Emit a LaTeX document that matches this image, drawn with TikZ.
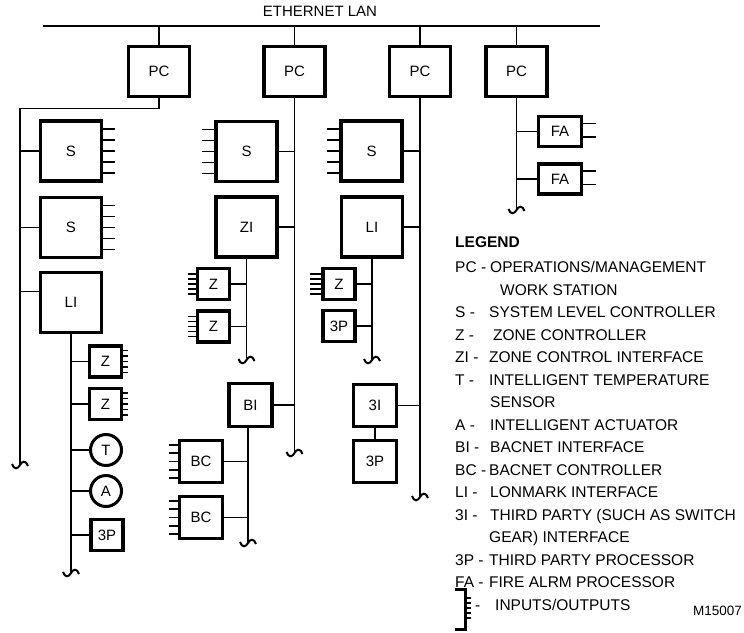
\documentclass[tikz,border=0pt]{standalone}
\usepackage{fontspec}
\setmainfont{Liberation Sans}
\usetikzlibrary{calc}
\begin{document}
\begin{tikzpicture}[x=1pt,y=-1pt,
  box/.style={draw,line width=3.4pt,inner sep=0pt,outer sep=0pt,font=\fontsize{15}{18}\selectfont},
  bigbox/.style={box,minimum width=61pt,minimum height=60pt},
  pcbox/.style={box,minimum width=61pt,minimum height=50pt},
  zbox/.style={box,minimum width=32pt,minimum height=31pt},
  midbox/.style={box,minimum width=43pt,minimum height=42pt},
  fabox/.style={box,minimum width=43pt,minimum height=30pt},
  circ/.style={box,circle,minimum size=31pt,line width=3pt},
  conn/.style={line width=1.6pt},
  pinl/.style={line width=1.6pt},
  legtxt/.style={anchor=base west,inner sep=0pt,font=\fontsize{15.5}{18}\selectfont},
  legbold/.style={legtxt,font=\fontsize{15.5}{18}\selectfont\bfseries},
  wig/.pic={\draw[line width=2pt] (-8,-1) .. controls (-6,5) and (-2,4) .. (0,0) .. controls (2,-4) and (6,-5) .. (8,1);}
]
\useasboundingbox (0,0) rectangle (744,632);

% Ethernet
\coordinate (ethL) at (43,26);
\coordinate (ethR) at (600,26);
\draw[conn] (ethL) -- (ethR);
\node[anchor=base,inner sep=0pt,font=\fontsize{15}{18}\selectfont] (eth) at (320,16.5) {ETHERNET LAN};

\node[pcbox] (pc1) at (159,71.5) {PC};
\node[pcbox] (pc2) at (294.5,71.5) {PC};
\node[pcbox] (pc3) at (420,71.5) {PC};
\node[pcbox] (pc4) at (516.5,71.5) {PC};
\foreach \p in {pc1,pc2,pc3,pc4} \draw[conn] (\p.north) -- (\p.north |- ethL);

% ---------- Column 1
\coordinate (bus1end) at (20,465);
\draw[conn] (pc1.south) -- ++(0,12) -| (bus1end);
\pic at (bus1end) {wig};
\node[bigbox] (s1) at (71,151) {S};
\node[bigbox] (s2) at (71,227.5) {S};
\node[bigbox] (li1) at (71,302.5) {LI};
\draw[conn] (s1.west) -- (s1.west -| bus1end);
\draw[conn] (s2.west) -- (s2.west -| bus1end);
\draw[conn] ($(li1.west)+(0,-11)$) -- ++(-20,0);
\foreach \n in {s1,s2} \foreach \d in {-22,-11,0,11,22}
  \draw[pinl] ($(\n.east)+(0,\d)$) -- ++(13,0);

\coordinate (li1end) at (71,573);
\draw[conn] (li1.south) -- (li1end);
\pic at (li1end) {wig};
\node[zbox] (z1a) at (105.5,361.5) {Z};
\node[zbox] (z1b) at (105.5,404) {Z};
\node[circ] (t1) at (106,450) {T};
\node[circ] (a1) at (106,491) {A};
\node[zbox] (p1) at (107,535) {3P};
\foreach \n in {z1a,z1b,t1,a1,p1} \draw[conn] (\n.west) -- (\n.west -| li1end);
\foreach \n in {z1a,z1b} \foreach \d in {-11,-5.5,0,5.5,11}
  \draw[pinl] ($(\n.east)+(0,\d)$) -- ++(6,0);

% ---------- Column 2
\coordinate (bus2end) at (294.5,453);
\draw[conn] (pc2.south) -- (bus2end);
\pic at (bus2end) {wig};
\node[bigbox] (s2b) at (246.5,151.5) {S};
\node[bigbox] (zi) at (246.5,227) {ZI};
\node[midbox,minimum height=43pt] (bi) at (250.5,405) {BI};
\foreach \n in {s2b,zi,bi} \draw[conn] (\n.east) -- (\n.east -| bus2end);
\foreach \d in {-22,-11,0,11,22}
  \draw[pinl] ($(s2b.west)+(0,\d)$) -- ++(-14,0);

\coordinate (ziend) at (246.5,360);
\draw[conn] (zi.south) -- (ziend);
\pic at (ziend) {wig};
\node[zbox] (z2a) at (213.5,284) {Z};
\node[zbox] (z2b) at (213.5,326.5) {Z};
\foreach \n in {z2a,z2b} {
  \draw[conn] (\n.east) -- (\n.east -| ziend);
  \foreach \d in {-10,-5,0,5,10} \draw[pinl] ($(\n.west)+(0,\d)$) -- ++(-10,0);
}

\coordinate (biend) at (248,543);
\draw[conn] (bi.south -| biend) -- (biend);
\pic at (biend) {wig};
\node[midbox] (bc1) at (201,461.5) {BC};
\node[midbox] (bc2) at (201,517.5) {BC};
\foreach \n in {bc1,bc2} {
  \draw[conn] (\n.east) -- (\n.east -| biend);
  \foreach \d in {-16.5,-8.25,0,8.25,16.5} \draw[pinl] ($(\n.west)+(0,\d)$) -- ++(-11,0);
}

% ---------- Column 3
\coordinate (bus3end) at (420,497);
\draw[conn] (pc3.south) -- (bus3end);
\pic at (bus3end) {wig};
\node[bigbox] (s3) at (371.5,151) {S};
\node[bigbox] (li3) at (372,227) {LI};
\node[midbox] (tpi) at (375,405.5) {3I};
\node[midbox] (tpb) at (375,461.5) {3P};
\foreach \n in {s3,li3,tpi} \draw[conn] (\n.east) -- (\n.east -| bus3end);
\draw[conn] (tpi.south) -- (tpb.north);
\foreach \d in {-22,-11,0,11,22}
  \draw[pinl] ($(s3.west)+(0,\d)$) -- ++(-14,0);

\coordinate (li3end) at (372,360);
\draw[conn] (li3.south) -- (li3end);
\pic at (li3end) {wig};
\node[zbox] (z3) at (339,284) {Z};
\node[zbox] (tps) at (339,326) {3P};
\foreach \n in {z3,tps} \draw[conn] (\n.east) -- (\n.east -| li3end);
\foreach \d in {-10,-5,0,5,10} \draw[pinl] ($(z3.west)+(0,\d)$) -- ++(-13,0);

% ---------- Column 4
\coordinate (bus4end) at (516.5,210);
\draw[conn] (pc4.south) -- (bus4end);
\pic at (bus4end) {wig};
\node[fabox] (fa1) at (560,131.5) {FA};
\node[fabox] (fa2) at (560,179) {FA};
\foreach \n in {fa1,fa2} {
  \draw[conn] (\n.west) -- (\n.west -| bus4end);
  \foreach \d in {-8,5.5} \draw[pinl] ($(\n.east)+(0,\d)$) -- ++(14,0);
}

% ---------- Legend
\node[legbold] (leg) at (455,247.5) {LEGEND};
\node[legtxt] (l0a) at (455,272.5) {PC -};
\node[legtxt] (l0b) at (490,272.5) {OPERATIONS/MANAGEMENT};
\node[legtxt] (l1b) at (500,295) {WORK STATION};
\node[legtxt] (l2a) at (455,317.5) {S -};
\node[legtxt] (l2b) at (489,317.5) {SYSTEM LEVEL CONTROLLER};
\node[legtxt] (l3a) at (455,340) {Z -};
\node[legtxt] (l3b) at (493,340) {ZONE CONTROLLER};
\node[legtxt] (l4a) at (455,362.5) {ZI -};
\node[legtxt] (l4b) at (489,362.5) {ZONE CONTROL INTERFACE};
\node[legtxt] (l5a) at (455,385) {T -};
\node[legtxt] (l5b) at (489,385) {INTELLIGENT TEMPERATURE};
\node[legtxt] (l6b) at (490,407.5) {SENSOR};
\node[legtxt] (l7a) at (455,430) {A -};
\node[legtxt] (l7b) at (490,430) {INTELLIGENT ACTUATOR};
\node[legtxt] (l8a) at (455,452.5) {BI -};
\node[legtxt] (l8b) at (490,452.5) {BACNET INTERFACE};
\node[legtxt] (l9a) at (455,475) {BC -};
\node[legtxt] (l9b) at (489,475) {BACNET CONTROLLER};
\node[legtxt] (l10a) at (455,497.5) {LI -};
\node[legtxt] (l10b) at (490,497.5) {LONMARK INTERFACE};
\node[legtxt] (l11a) at (455,520) {3I -};
\node[legtxt] (l11b) at (490,520) {THIRD PARTY (SUCH AS SWITCH};
\node[legtxt] (l12b) at (489,542.5) {GEAR) INTERFACE};
\node[legtxt] (l13a) at (455,565) {3P -};
\node[legtxt] (l13b) at (489,565) {THIRD PARTY PROCESSOR};
\node[legtxt] (l14a) at (455,587.5) {FA -};
\node[legtxt] (l14b) at (489,587.5) {FIRE ALRM PROCESSOR};
\node[legtxt] (l15a) at (475,610) {-};
\node[legtxt] (l15b) at (495,610) {INPUTS/OUTPUTS};
\node[anchor=base west,inner sep=0pt,font=\fontsize{13.5}{16}\selectfont] (mnum) at (693,615) {M15007};

% I/O symbol
\draw[line width=3pt] (455,589) -- (465,589) -- (465,629.5) -- (455,629.5);
\foreach \y in {598,603,608,613,618} \draw[line width=1.2pt] (465,\y) -- (471,\y);
\end{tikzpicture}
\end{document}
